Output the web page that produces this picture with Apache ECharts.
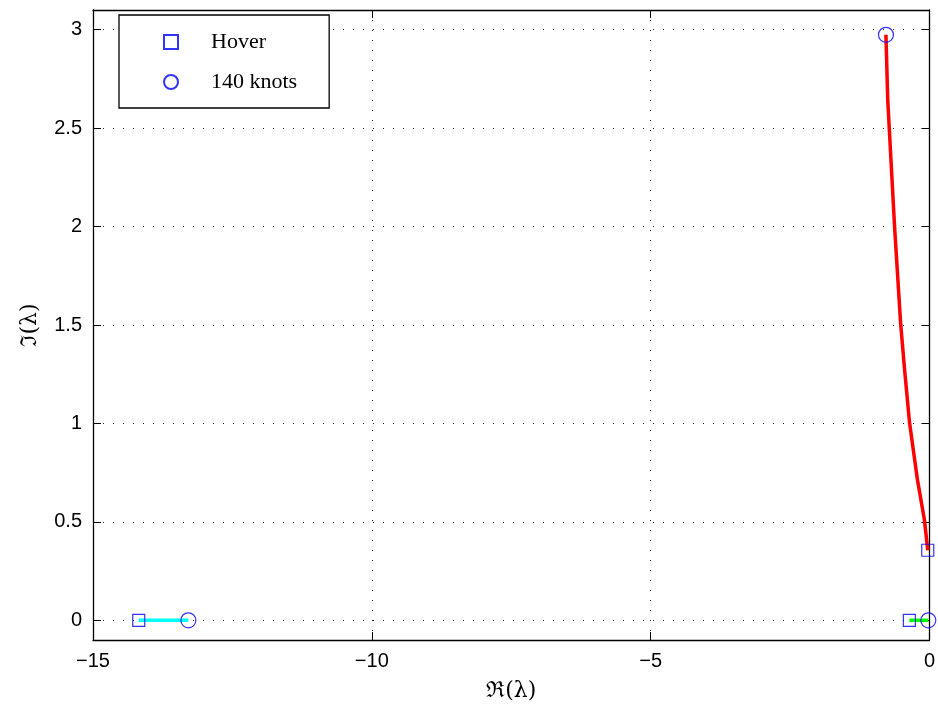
<!DOCTYPE html>
<html>
<head>
<meta charset="utf-8">
<script src="https://cdn.jsdelivr.net/npm/echarts@6/dist/echarts.min.js"></script>
<style>html,body{margin:0;padding:0;background:#fff;overflow:hidden;}#c{width:938px;height:709px;}</style>
</head>
<body>
<div id="c"></div>
<script>
// Data
const hoverPoints = [[-14.18, 0], [-0.36, 0], [-0.03, 0.356]];
const knots140Points = [[-13.29, 0], [-0.02, 0], [-0.78, 2.974]];
const redPath = [[-0.78, 2.974], [-0.748, 2.644], [-0.624, 1.993], [-0.517, 1.51], [-0.445, 1.271], [-0.356, 1.002], [-0.214, 0.712], [-0.089, 0.508], [-0.03, 0.356]];
const cyanPath = [[-14.18, 0], [-13.29, 0]];
const greenPath = [[-0.36, 0], [-0.02, 0]];
const xRange = [-15, 0];
const yRange = [-0.1, 3.1];

const chart = echarts.init(document.getElementById('c'), null, {renderer: 'canvas', width: 938, height: 709});
const tickFont = {fontFamily: 'Liberation Sans, Arial, sans-serif', fontSize: 20, color: '#000'};
const gridLine = {show: true, lineStyle: {color: '#222', width: 1, type: [1, 9]}};
const axLine = {show: true, onZero: false, lineStyle: {color: '#000', width: 1.3}};
const tick = {show: true, inside: true, length: 8, lineStyle: {color: '#000', width: 1}};

const option = {
  animation: false,
  backgroundColor: '#fff',
  grid: {left: 93, width: 842, top: 10, height: 630, containLabel: false},
  legend: {
    show: true,
    left: 119, top: 15,
    orient: 'vertical',
    data: ['Hover', '140 knots'],
    backgroundColor: '#fff',
    borderColor: '#000', borderWidth: 1.3,
    padding: [16, 32, 15, 44],
    itemGap: 18,
    itemWidth: 14, itemHeight: 14,
    textStyle: {fontFamily: 'Liberation Serif, DejaVu Serif, serif', fontSize: 22, color: '#000', padding: [0, 0, 0, 28]}
  },
  xAxis: [{
    type: 'value', min: xRange[0], max: xRange[1], interval: 5, position: 'bottom',
    axisLine: axLine, axisTick: tick, splitLine: gridLine,
    axisLabel: Object.assign({margin: 11, formatter: v => (v < 0 ? '\u2212' + Math.abs(v) : String(v))}, tickFont),
    name: '\u211C(\u03BB)', nameLocation: 'middle', nameGap: 40,
    nameTextStyle: {fontFamily: 'DejaVu Serif, serif', fontSize: 22, color: '#000'}
  }, {
    type: 'value', min: xRange[0], max: xRange[1], interval: 5, position: 'top',
    axisLine: axLine, axisTick: tick, splitLine: {show: false}, axisLabel: {show: false}
  }],
  yAxis: [{
    type: 'value', min: yRange[0], max: yRange[1], splitNumber: 6, position: 'left',
    axisLine: axLine, axisTick: tick, splitLine: gridLine,
    axisLabel: Object.assign({margin: 11, showMinLabel: false, showMaxLabel: false,
      formatter: v => (Math.abs(v * 2 - Math.round(v * 2)) < 1e-6 ? String(+v.toFixed(1)) : '')}, tickFont),
    name: '\u2111(\u03BB)', nameLocation: 'middle', nameGap: 52, nameRotate: 90,
    nameTextStyle: {fontFamily: 'DejaVu Serif, serif', fontSize: 22, color: '#000'}
  }, {
    type: 'value', min: yRange[0], max: yRange[1], splitNumber: 6, position: 'right',
    axisLine: axLine, axisTick: tick, splitLine: {show: false}, axisLabel: {show: false}
  }],
  series: [
    {type: 'line', data: redPath, symbol: 'none', lineStyle: {color: '#ff0000', width: 3.5}, z: 2, clip: false},
    {type: 'line', data: cyanPath, symbol: 'none', lineStyle: {color: '#00ffff', width: 3.5}, z: 2, clip: false},
    {type: 'line', data: greenPath, symbol: 'none', lineStyle: {color: '#00ff00', width: 3.5}, z: 2, clip: false},
    {name: 'Hover', type: 'scatter', data: hoverPoints, symbol: 'rect', symbolSize: 12,
     itemStyle: {color: 'rgba(0,0,0,0)', borderColor: '#0000ff', borderWidth: 1.2}, z: 3, clip: false},
    {name: '140 knots', type: 'scatter', data: knots140Points, symbol: 'circle', symbolSize: 15,
     itemStyle: {color: 'rgba(0,0,0,0)', borderColor: '#0000ff', borderWidth: 1.2}, z: 3, clip: false}
  ]
};
chart.setOption(option);
</script>
</body>
</html>
